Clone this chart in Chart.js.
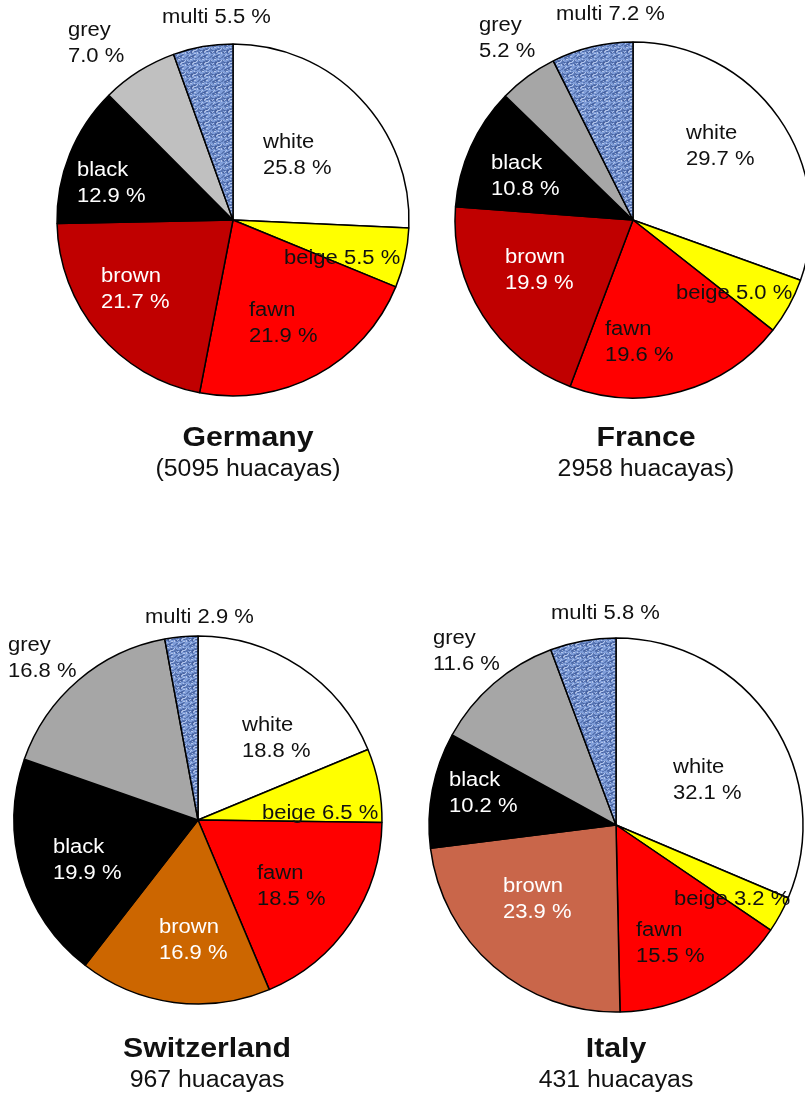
<!DOCTYPE html>
<html>
<head>
<meta charset="utf-8">
<script src="https://cdn.jsdelivr.net/npm/chart.js@4/dist/chart.umd.min.js"></script>
<style>
  html, body { margin: 0; padding: 0; background: #fff; }
  #page { position: relative; width: 805px; height: 1099px; overflow: hidden; background: #fff; }
  canvas { position: absolute; }
  .title, .sub {
    position: absolute; white-space: nowrap; color: #111;
    font-family: "Liberation Sans", Arial, sans-serif;
    transform: translate(-50%, -50%) scaleX(1.08);
  }
  .title { font-weight: bold; font-size: 28px; }
  .sub { font-size: 23px; }
</style>
</head>
<body>
<div id="page"></div>
<script>
// colour categories, clockwise from 12 o'clock
const categories = ['white', 'beige', 'fawn', 'brown', 'black', 'grey', 'multi'];

const germany     = [25.8, 5.5, 21.9, 21.7, 12.9, 7.0, 5.5];
const france      = [29.7, 5.0, 19.6, 19.9, 10.8, 5.2, 7.2];
const switzerland = [18.8, 6.5, 18.5, 16.9, 19.9, 16.8, 2.9];
const italy       = [32.1, 3.2, 15.5, 23.9, 10.2, 11.6, 5.8];

const countryNames = ['Germany', 'France', 'Switzerland', 'Italy'];
const countryCounts = ['(5095 huacayas)', '2958 huacayas)', '967 huacayas', '431 huacayas'];

// layout: pie centre, radius, title position, label offsets [dx, dy, twoLines]
const charts = [
  {
    data: germany, cx: 233, cy: 220, r: 176, tx: 248, ty: 437,
    brown: '#c00000', grey: '#c0c0c0',
    offsets: [[30, -78, 1], [51, 38, 0], [16, 90, 1], [-132, 56, 1], [-156, -50, 1], [-165, -190, 1], [-71, -203, 0]]
  },
  {
    data: france, cx: 633, cy: 220, r: 178, tx: 646, ty: 437,
    brown: '#c00000', grey: '#a6a6a6',
    offsets: [[53, -87, 1], [43, 73, 0], [-28, 109, 1], [-128, 37, 1], [-142, -57, 1], [-154, -195, 1], [-77, -206, 0]]
  },
  {
    data: switzerland, cx: 198, cy: 820, r: 184, tx: 207, ty: 1048,
    brown: '#cc6600', grey: '#a6a6a6',
    offsets: [[44, -95, 1], [64, -7, 0], [59, 53, 1], [-39, 107, 1], [-145, 27, 1], [-190, -175, 1], [-53, -203, 0]]
  },
  {
    data: italy, cx: 616, cy: 825, r: 187, tx: 616, ty: 1048,
    brown: '#c9664a', grey: '#a6a6a6',
    offsets: [[57, -58, 1], [58, 74, 0], [20, 105, 1], [-113, 61, 1], [-167, -45, 1], [-183, -187, 1], [-65, -212, 0]]
  }
];

// blue woven texture for the "multi" slice
function makeTexture(ctx) {
  const c = document.createElement('canvas');
  c.width = 12; c.height = 12;
  const g = c.getContext('2d');
  g.fillStyle = '#7f9dd8';
  g.fillRect(0, 0, 12, 12);
  for (let y = 0; y < 12; y++) {
    for (let x = 0; x < 12; x++) {
      const h = Math.abs(Math.sin(x * 12.9898 + y * 78.233) * 43758.5453) % 1;
      if (h < 0.22) { g.fillStyle = 'rgba(45,70,135,0.45)'; g.fillRect(x, y, 2, 1); }
      else if (h > 0.8) { g.fillStyle = 'rgba(210,222,248,0.6)'; g.fillRect(x, y, 1, 1); }
    }
  }
  return ctx.createPattern(c, 'repeat');
}

const sliceLabels = {
  id: 'sliceLabels',
  afterDatasetsDraw(chart, args, opts) {
    const ctx = chart.ctx;
    const arcs = chart.getDatasetMeta(0).data;
    const vals = chart.data.datasets[0].data;
    ctx.save();
    ctx.font = '20px "Liberation Sans", Arial, sans-serif';
    ctx.textBaseline = 'middle';
    ctx.textAlign = 'left';
    arcs.forEach((arc, i) => {
      const [dx, dy, two] = opts.offsets[i];
      const name = chart.data.labels[i];
      const pct = vals[i].toFixed(1) + ' %';
      const lines = two ? [name, pct] : [name + ' ' + pct];
      ctx.fillStyle = (i === 3 || i === 4) ? '#ffffff' : '#111111';
      lines.forEach((t, k) => {
        ctx.save();
        ctx.translate(arc.x + dx, arc.y + dy + k * 26);
        ctx.scale(1.1, 1);
        ctx.fillText(t, 0, 0);
        ctx.restore();
      });
    });
    ctx.restore();
  }
};

const page = document.getElementById('page');
const S = 235;

charts.forEach((c, n) => {
  const canvas = document.createElement('canvas');
  canvas.width = 2 * S;
  canvas.height = 2 * S;
  canvas.style.left = (c.cx - S) + 'px';
  canvas.style.top = (c.cy - S) + 'px';
  page.appendChild(canvas);
  const ctx = canvas.getContext('2d');

  new Chart(ctx, {
    type: 'pie',
    data: {
      labels: categories,
      datasets: [{
        data: c.data,
        backgroundColor: ['#ffffff', '#ffff00', '#ff0000', c.brown, '#000000', c.grey, makeTexture(ctx)],
        borderColor: '#000000',
        borderWidth: 1.5
      }]
    },
    options: {
      responsive: false,
      animation: false,
      radius: c.r,
      layout: { padding: 0 },
      plugins: {
        legend: { display: false },
        tooltip: { enabled: false },
        sliceLabels: { offsets: c.offsets }
      }
    },
    plugins: [sliceLabels]
  });

  const t = document.createElement('div');
  t.className = 'title';
  t.textContent = countryNames[n];
  t.style.left = c.tx + 'px';
  t.style.top = c.ty + 'px';
  page.appendChild(t);

  const s = document.createElement('div');
  s.className = 'sub';
  s.textContent = countryCounts[n];
  s.style.left = c.tx + 'px';
  s.style.top = (c.ty + 31) + 'px';
  page.appendChild(s);
});
</script>
</body>
</html>
